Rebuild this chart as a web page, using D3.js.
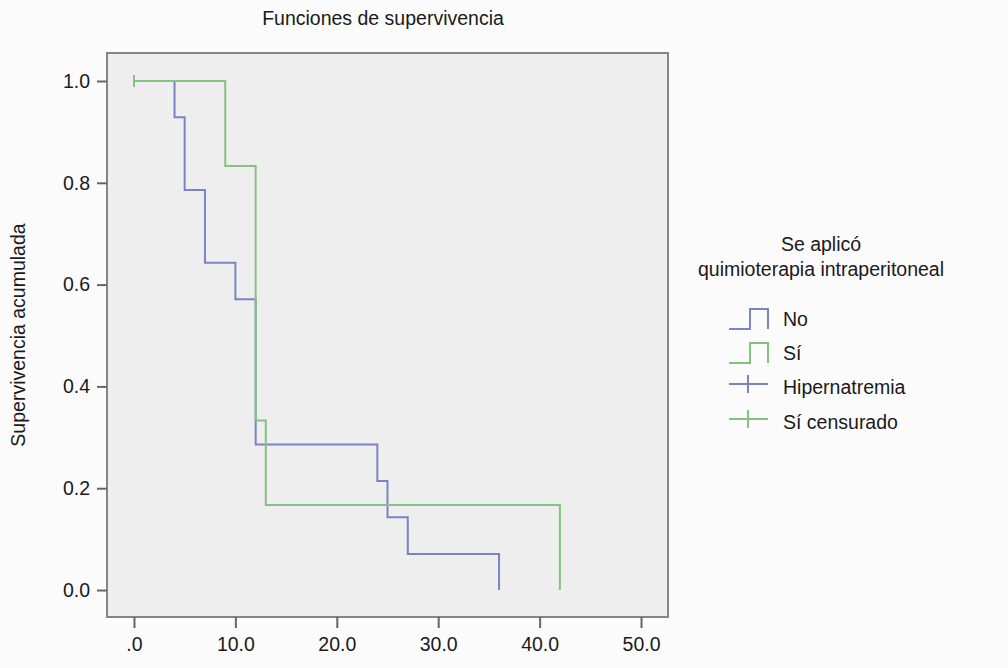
<!DOCTYPE html>
<html>
<head>
<meta charset="utf-8">
<script src="https://cdn.jsdelivr.net/npm/d3@7"></script>
<style>
  body { margin: 0; background: #fbfbfb; }
  svg { display: block; }
  text { font-family: "Liberation Sans", Arial, sans-serif; fill: #1a1a1a; }
</style>
</head>
<body>
<svg id="chart" width="1008" height="668"></svg>
<script>
// Kaplan-Meier step data
let noTimes = [0, 4, 5, 7, 10, 12, 24, 25, 27, 36];
let noSurv = [1.0, 0.929, 0.786, 0.643, 0.571, 0.286, 0.214, 0.143, 0.071, 0.0];
let siTimes = [0, 9, 12, 13, 42];
let siSurv = [1.0, 0.833, 0.333, 0.167, 0.0];
let siCensorTimes = [0];
let siCensorSurv = [1.0];

let xTicks = [0, 10, 20, 30, 40, 50];
let xTickLabels = [".0", "10.0", "20.0", "30.0", "40.0", "50.0"];
let yTicks = [0, 0.2, 0.4, 0.6, 0.8, 1.0];
let yTickLabels = ["0.0", "0.2", "0.4", "0.6", "0.8", "1.0"];

let legendLabels = ["No", "Sí", "Hipernatremia", "Sí censurado"];

let blue = "#7b83c6";
let green = "#86c27f";
let fs = 19.5;

let svg = d3.select("#chart");
let plot = { left: 107, top: 53, right: 668, bottom: 617 };

let x = d3.scaleLinear().domain([-2.66, 52.66]).range([plot.left, plot.right]);
let y = d3.scaleLinear().domain([-0.053, 1.055]).range([plot.bottom, plot.top]);

svg.append("rect")
    .attr("x", plot.left).attr("y", plot.top)
    .attr("width", plot.right - plot.left).attr("height", plot.bottom - plot.top)
    .attr("fill", "#eeeeee")
    .attr("stroke", "#858585").attr("stroke-width", 2);

// axes
let xAxis = d3.axisBottom(x).tickValues(xTicks)
    .tickFormat((d, i) => xTickLabels[i]).tickSize(11).tickSizeOuter(0);
let gx = svg.append("g").attr("transform", "translate(0," + plot.bottom + ")").call(xAxis);
gx.select(".domain").remove();
gx.selectAll(".tick line").attr("stroke", "#666").attr("stroke-width", 2);
gx.selectAll(".tick text").attr("font-size", fs).attr("fill", "#1a1a1a").attr("dy", "1.05em");

let yAxis = d3.axisLeft(y).tickValues(yTicks)
    .tickFormat((d, i) => yTickLabels[i]).tickSize(10).tickSizeOuter(0);
let gy = svg.append("g").attr("transform", "translate(" + plot.left + ",0)").call(yAxis);
gy.select(".domain").remove();
gy.selectAll(".tick line").attr("stroke", "#666").attr("stroke-width", 2);
gy.selectAll(".tick text").attr("font-size", fs).attr("fill", "#1a1a1a").attr("x", -17);

// step curves
let line = d3.line().x(d => x(d[0])).y(d => y(d[1])).curve(d3.curveStepAfter);

svg.append("path")
    .datum(noTimes.map((t, i) => [t, noSurv[i]]))
    .attr("d", line).attr("fill", "none")
    .attr("stroke", blue).attr("stroke-width", 2);

svg.append("path")
    .datum(siTimes.map((t, i) => [t, siSurv[i]]))
    .attr("d", line).attr("fill", "none")
    .attr("stroke", green).attr("stroke-width", 2);

// censored marks
svg.selectAll(".censor")
    .data(siCensorTimes)
    .enter().append("line")
    .attr("class", "censor")
    .attr("x1", d => x(d)).attr("x2", d => x(d))
    .attr("y1", (d, i) => y(siCensorSurv[i]) - 6)
    .attr("y2", (d, i) => y(siCensorSurv[i]) + 6)
    .attr("stroke", green).attr("stroke-width", 2);

// titles
svg.append("text")
    .attr("x", 383).attr("y", 25)
    .attr("text-anchor", "middle").attr("font-size", fs)
    .text("Funciones de supervivencia");

svg.append("text")
    .attr("transform", "translate(25,335) rotate(-90)")
    .attr("text-anchor", "middle").attr("font-size", fs)
    .text("Supervivencia acumulada");

// legend
let lg = svg.append("g");
lg.append("text").attr("x", 821).attr("y", 251)
    .attr("text-anchor", "middle").attr("font-size", fs).text("Se aplicó");
lg.append("text").attr("x", 821).attr("y", 276)
    .attr("text-anchor", "middle").attr("font-size", fs).text("quimioterapia intraperitoneal");

let rowY = [319, 353, 387, 422];
let legendColors = [blue, green, blue, green];
legendLabels.forEach(function (label, i) {
    let cy = rowY[i];
    if (i < 2) {
        lg.append("path")
            .attr("d", "M729," + (cy + 10) + "H750V" + (cy - 10) + "H768V" + (cy + 10))
            .attr("fill", "none").attr("stroke", legendColors[i]).attr("stroke-width", 2);
    } else {
        lg.append("line").attr("x1", 729).attr("x2", 768).attr("y1", cy - 3).attr("y2", cy - 3)
            .attr("stroke", legendColors[i]).attr("stroke-width", 2);
        lg.append("line").attr("x1", 748).attr("x2", 748).attr("y1", cy - 12).attr("y2", cy + 6)
            .attr("stroke", legendColors[i]).attr("stroke-width", 2);
    }
    lg.append("text").attr("x", 783).attr("y", cy + 7)
        .attr("font-size", fs).text(label);
});
</script>
</body>
</html>
